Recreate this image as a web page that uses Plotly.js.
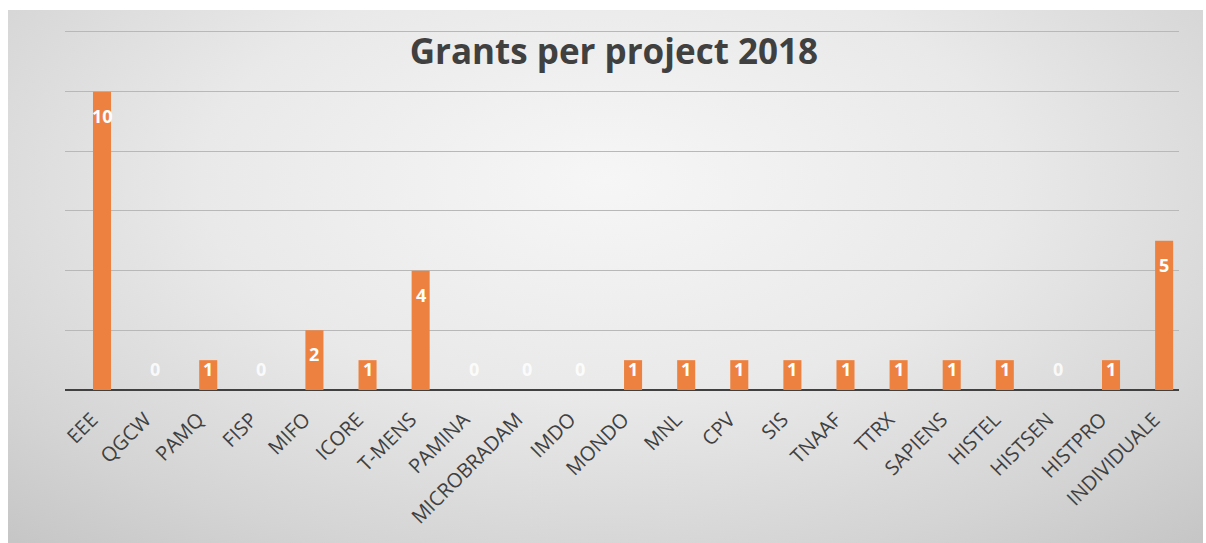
<!DOCTYPE html>
<html>
<head>
<meta charset="utf-8">
<script src="https://cdn.plot.ly/plotly-3.0.1.min.js"></script>
<style>
html,body{margin:0;padding:0;background:#fff;width:1206px;height:543px;overflow:hidden;}
#bg{position:absolute;left:8px;top:10px;width:1195px;height:533px;
background:radial-gradient(ellipse 75% 90% at 50% 32%, #f6f6f6 0%, #e9e9e9 45%, #d4d4d4 80%, #c6c6c6 100%);}
#chart{position:absolute;left:0;top:0;width:1206px;height:543px;}
</style>
</head>
<body>
<div id="bg"></div>
<div id="chart"></div>
<script>
const categories = ["EEE","QGCW","PAMQ","FISP","MIFO","ICORE","T-MENS","PAMINA","MICROBRADAM","IMDO","MONDO","MNL","CPV","SIS","TNAAF","TTRX","SAPIENS","HISTEL","HISTSEN","HISTPRO","INDIVIDUALE"];
const grants = [10,0,1,0,2,1,4,0,0,0,1,1,1,1,1,1,1,1,0,1,5];

const trace = {
  type: "bar",
  x: categories,
  y: grants,
  marker: {color: "#ED8240", line: {width: 0}},
  hoverinfo: "x+y"
};

// value labels (white, inside end like the source)
const labels = categories.map((c, i) => ({
  x: c,
  y: Math.max(grants[i] - 0.8, 0.7),
  xref: "x", yref: "y",
  text: "<b>" + grants[i] + "</b>",
  showarrow: false,
  xanchor: "center", yanchor: "middle",
  font: {family: "Open Sans, sans-serif", size: 18, color: grants[i] === 0 ? "rgba(255,255,255,0.85)" : "#ffffff"}
}));

const layout = {
  width: 1206, height: 543,
  paper_bgcolor: "rgba(0,0,0,0)",
  plot_bgcolor: "rgba(0,0,0,0)",
  margin: {l: 65, r: 27, t: 29, b: 153, pad: 0},
  bargap: 0.66,
  showlegend: false,
  annotations: labels,
  title: {
    text: "<b>Grants per project 2018</b>",
    x: 0.509, xanchor: "center",
    y: 0.905, yanchor: "middle",
    font: {family: "Open Sans, sans-serif", size: 35, color: "#404040"}
  },
  xaxis: {
    type: "category",
    range: [-0.697, 20.28],
    tickangle: -45,
    tickfont: {family: "Open Sans, sans-serif", size: 20, color: "#404040"},
    ticklabelstandoff: 13,
    ticklabelshift: -10,
    showline: false, showgrid: false, ticks: "", ticklen: 0,
    automargin: false
  },
  yaxis: {
    range: [0, 12.1],
    dtick: 2,
    showticklabels: false,
    showgrid: true,
    gridcolor: "#b8b8b8",
    gridwidth: 1,
    zeroline: true,
    zerolinecolor: "#404040",
    zerolinewidth: 2,
    showline: false, ticks: ""
  }
};

Plotly.newPlot("chart", [trace], layout, {displayModeBar: false, staticPlot: true});
</script>
</body>
</html>
